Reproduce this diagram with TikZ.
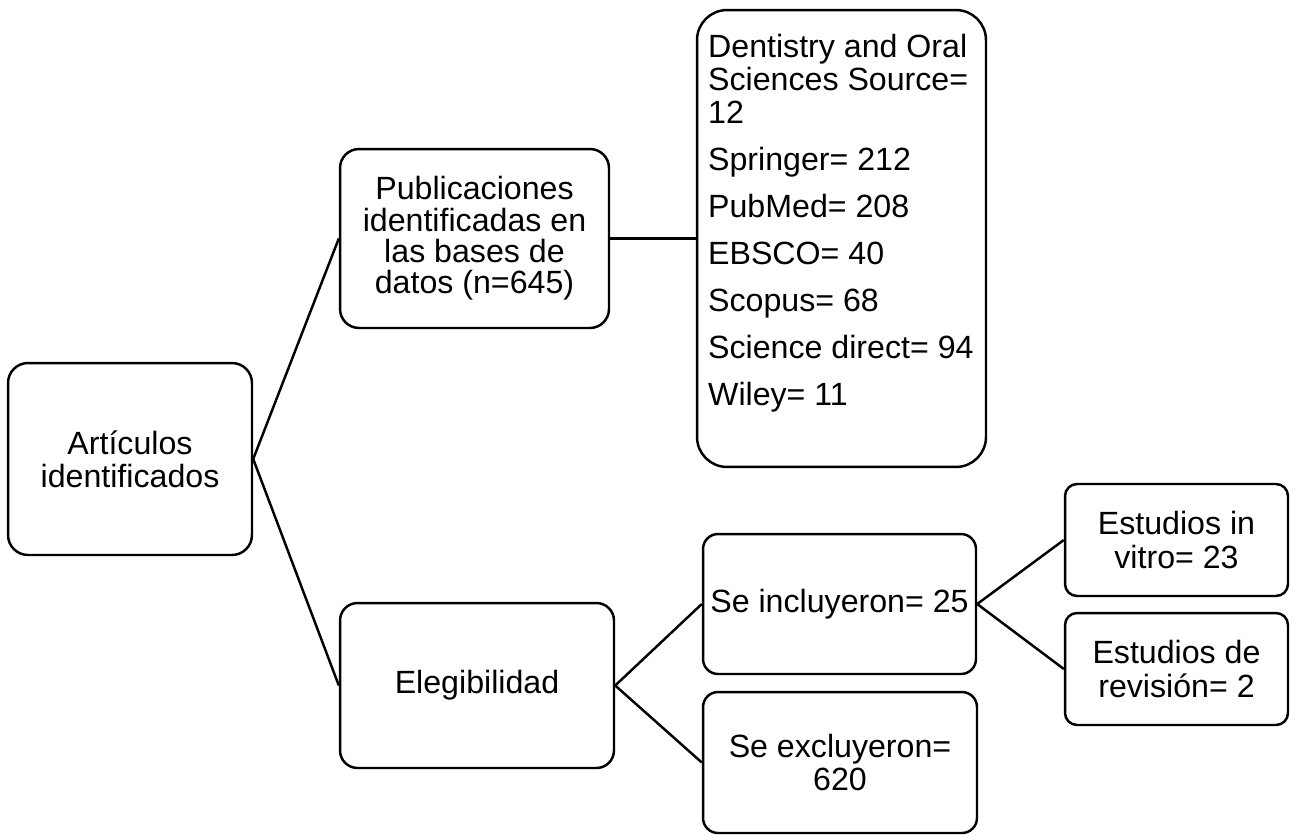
\documentclass[tikz,border=0pt]{standalone}
\usepackage{fontspec}
\setmainfont{Liberation Sans}

\begin{document}
\begin{tikzpicture}[x=0.02cm, y=-0.02cm,
	caja/.style={draw, line width=1.4pt, rounded corners=#1, align=center, inner sep=0pt},
	caja/.default=0.36cm,
	linea/.style={line width=1.4pt}]
\fontsize{18.3}{18.8}\selectfont
\def \gap {0.28cm} % space between the sources

\useasboundingbox (0,0) rectangle (1297,835);

\node[caja=0.4cm, minimum width=4.88cm, minimum height=3.84cm] (art) at (130,459) {Artículos\\identificados};
\node[caja=0.38cm, minimum width=5.38cm, minimum height=3.58cm, font=\fontsize{18.3}{17.9}\selectfont] (pub) at (474.5,238.5) {Publicaciones\\identificadas en\\las bases de\\datos (n=645)};
\node[caja=0.35cm, minimum width=5.48cm, minimum height=3.3cm] (eleg) at (477,685.5) {Elegibilidad};

\node[caja=0.6cm, minimum width=5.78cm, minimum height=9.14cm] (fuentes) at (841.5,238.5) {};
\node[anchor=north west, align=left, inner sep=0pt] (bases) at ([shift={(0.24cm,-0.5cm)}]fuentes.north west)
	{Dentistry and Oral\\Sciences Source=\\12\\[\gap]Springer= 212\\[\gap]PubMed= 208\\[\gap]EBSCO= 40\\[\gap]Scopus= 68\\[\gap]Science direct= 94\\[\gap]Wiley= 11};

\node[caja=0.3cm, minimum width=5.46cm, minimum height=2.8cm] (incl) at (839.5,604) {Se incluyeron= 25};
\node[caja=0.3cm, minimum width=5.48cm, minimum height=2.82cm] (excl) at (840,762.5) {Se excluyeron=\\620};
\node[caja=0.24cm, minimum width=4.46cm, minimum height=2.24cm] (vitro) at (1176.5,540) {Estudios in\\vitro= 23};
\node[caja=0.24cm, minimum width=4.46cm, minimum height=2.24cm] (rev) at (1176.5,669) {Estudios de\\revisión= 2};

\foreach \a/\b in {art/pub, art/eleg, pub/fuentes, eleg/incl, eleg/excl, incl/vitro, incl/rev}
	\draw[linea] (\a.east) -- (\b.west);
\end{tikzpicture}
\end{document}
